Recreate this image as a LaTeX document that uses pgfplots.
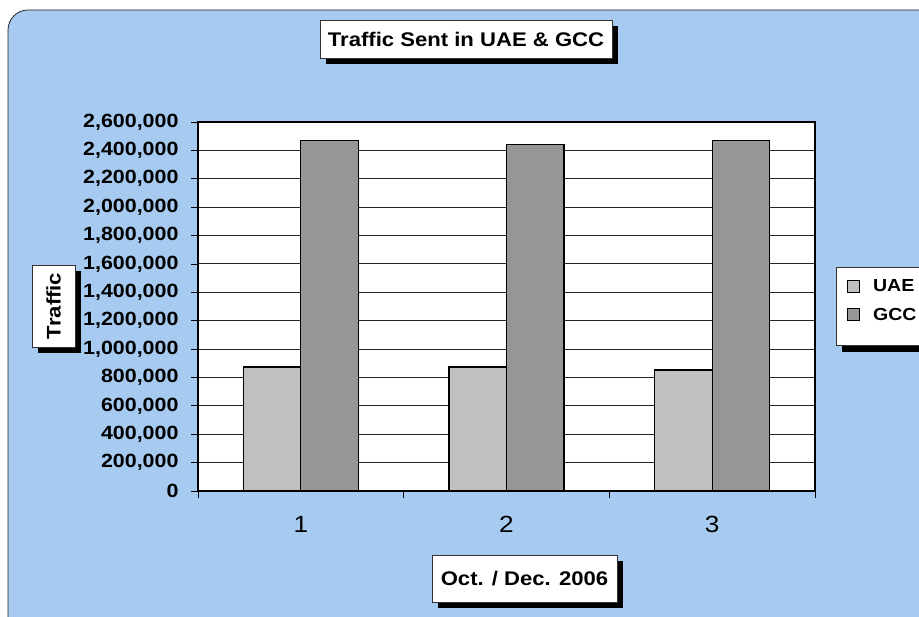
\documentclass[border=0pt]{standalone}
\usepackage{pgfplots}
\pgfplotsset{compat=1.18}
\usepackage{fontspec}
\setmainfont{Liberation Sans}[FakeStretch=1.12]
\usetikzlibrary{shadows}
\definecolor{bgblue}{RGB}{166,202,240}
\definecolor{uaegray}{RGB}{192,192,192}
\definecolor{gccgray}{RGB}{150,150,150}
\pgfdeclarelayer{back}
\pgfdeclarelayer{shadow}
\pgfsetlayers{back,shadow,main}
\begin{document}
\begin{tikzpicture}[x=1bp,y=1bp]
\useasboundingbox (0,0) rectangle (919,617);
\clip (0,0) rectangle (919,617);
\begin{pgfonlayer}{back}
\fill[white] (0,0) rectangle (919,617);
\draw[fill=bgblue, draw=black!85, line width=0.8bp, rounded corners=20bp] (8,-30) rectangle (950,607);
\end{pgfonlayer}
\begin{axis}[
  at={(198bp,126bp)}, anchor=south west,
  scale only axis, width=617bp, height=369bp,
  xmin=0.5, xmax=3.5, ymin=0, ymax=2600000,
  ybar=0pt, bar width=0.28,
  axis background/.style={fill=white},
  axis line style={line width=1.6bp, black},
  tick align=outside, tick pos=left,
  major tick length=7bp,
  tick style={black, line width=0.8bp},
  ytick={0,200000,...,2600000},
  ymajorgrids, grid style={black!85, line width=0.9bp},
  scaled y ticks=false,
  yticklabel style={font=\bfseries\fontsize{19.2}{21}\selectfont, /pgf/number format/fixed, /pgf/number format/1000 sep={,}, /pgf/number format/assume math mode=true, xshift=-9bp},
  xtick={0.5,1.5,2.5,3.5}, xticklabels={},
  extra x ticks={1,2,3}, extra x tick labels={1,2,3},
  extra x tick style={major tick length=0pt, xticklabel style={font=\fontsize{23.5}{25}\selectfont, yshift=-22bp}},
  legend style={name=leg, at={(1.052,0.590)}, anchor=north west, draw=none, fill=none,
    font=\bfseries\fontsize{17.5}{19}\selectfont, row sep=11bp, column sep=9bp, inner xsep=0bp, inner ysep=4bp,
    legend cell align=left, nodes={inner xsep=4bp}},
  legend image code/.code={\draw[#1, line width=0.8bp] (0bp,-6bp) rectangle (12bp,6bp);},
]
\addplot[fill=uaegray, draw=black, line width=1.2bp] coordinates {(1,873000) (2,873000) (3,852000)};
\addplot[fill=gccgray, draw=black, line width=1.2bp] coordinates {(1,2472000) (2,2444000) (3,2468000)};
\legend{UAE,GCC}
\end{axis}
\begin{pgfonlayer}{shadow}
\fill[black] ([shift={(6bp,0bp)}]836,0 |- leg.north) rectangle ([shift={(6bp,-24bp)}]940,0 |- leg.south);
\draw[fill=white, draw=black!80, line width=0.8bp] ([yshift=6bp]836,0 |- leg.north) rectangle ([yshift=-18bp]940,0 |- leg.south);
\end{pgfonlayer}
\tikzset{lbl/.style={fill=white, draw=black!80, line width=0.8bp, font=\bfseries\fontsize{19.8}{21}\selectfont, inner sep=0pt,
  drop shadow={shadow xshift=6bp, shadow yshift=-6bp, fill=black, opacity=1}}}
\node[lbl, minimum width=292bp, minimum height=38bp] at (466,578) {Traffic Sent in UAE \& GCC};
\node[lbl, minimum width=185bp, minimum height=47bp] at (524.5,38.5) {Oct. / Dec. 2006};
\node[lbl, minimum width=82bp, minimum height=43bp, rotate=90] at (53.5,311) {Traffic};
\end{tikzpicture}
\end{document}
